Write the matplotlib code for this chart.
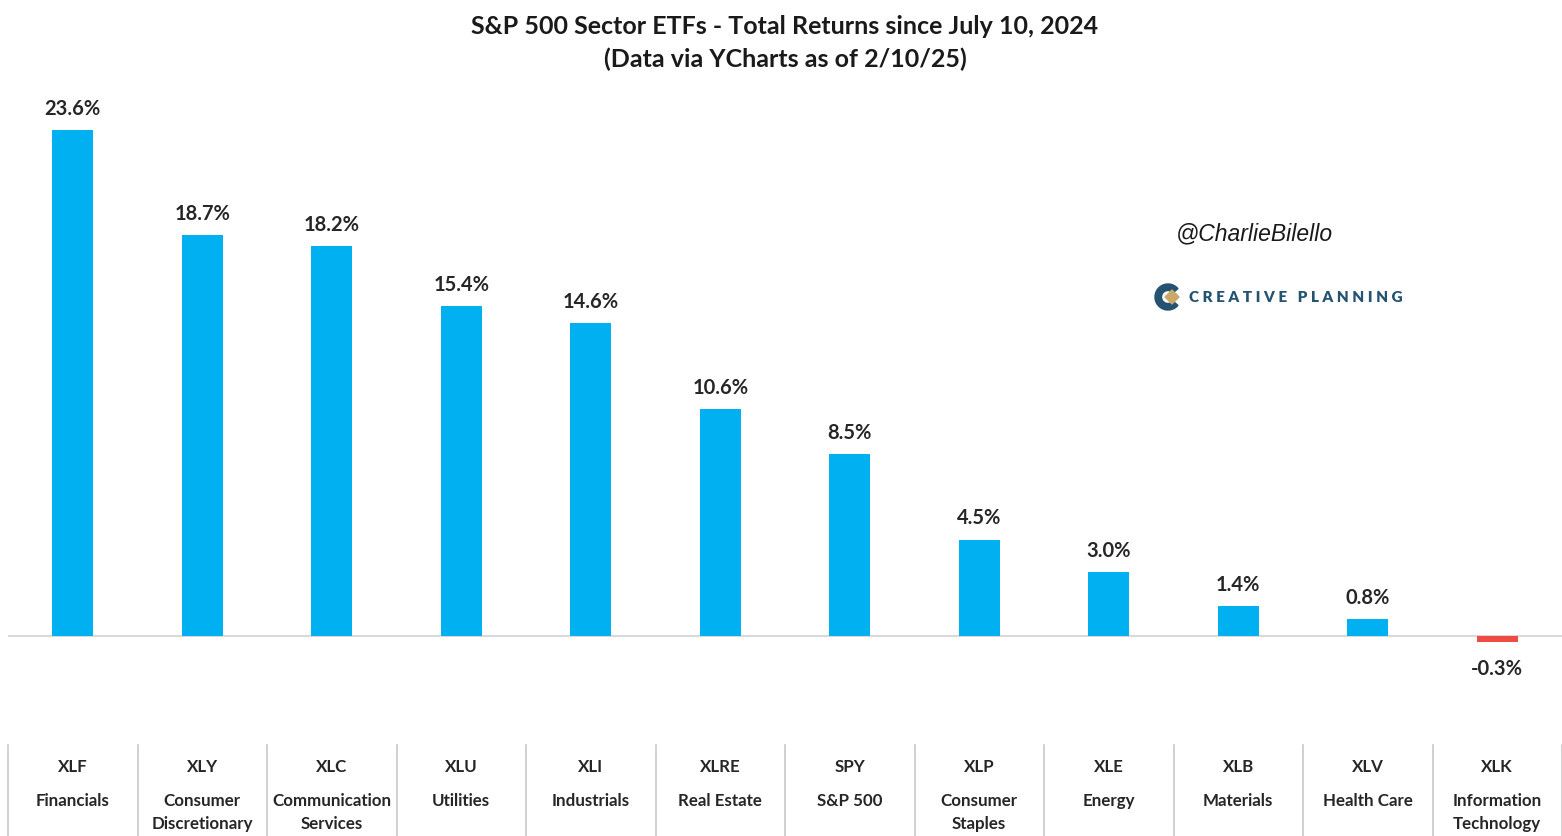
import matplotlib.pyplot as plt
import matplotlib.transforms as mtransforms
from matplotlib.patches import Wedge, Polygon
import numpy as np

plt.rcParams['font.family'] = ['Lato', 'DejaVu Sans']

# sector etf data
tickers = ['XLF', 'XLY', 'XLC', 'XLU', 'XLI', 'XLRE', 'SPY', 'XLP', 'XLE', 'XLB', 'XLV', 'XLK']
names = ['Financials', 'Consumer\nDiscretionary', 'Communication\nServices', 'Utilities',
         'Industrials', 'Real Estate', 'S&P 500', 'Consumer\nStaples', 'Energy',
         'Materials', 'Health Care', 'Information\nTechnology']
returns = [23.6, 18.7, 18.2, 15.4, 14.6, 10.6, 8.5, 4.5, 3.0, 1.4, 0.8, -0.3]

W, H = 1562, 836
fig = plt.figure(figsize=(W / 100, H / 100), dpi=100)
fig.patch.set_facecolor('white')

# axes placed in pixels: x 8..1562, y 100..700
ax = fig.add_axes([8 / W, 1 - 700.3 / H, (W - 8) / W, 600.3 / H])
x = np.arange(len(tickers))
colors = ['#00B0F0' if v >= 0 else '#EE4B45' for v in returns]
ax.bar(x, returns, width=0.32, color=colors, zorder=2)
ax.set_xlim(-0.5, len(tickers) - 0.5)
ax.set_ylim(-3, 25)
ax.axhline(0, color='#d9d9d9', lw=1.5, zorder=1)
for s in ax.spines.values():
    s.set_visible(False)
ax.set_xticks([])
ax.set_yticks([])

for xi, v in zip(x, returns):
    if v >= 0:
        ax.annotate(f'{v:.1f}%', (xi, v), xytext=(0, 8), textcoords='offset points',
                    ha='center', va='bottom', fontsize=14.5, fontweight='bold', color='#262626')
    else:
        ax.annotate(f'{v:.1f}%', (xi, v), xytext=(0, -12), textcoords='offset points',
                    ha='center', va='top', fontsize=14.5, fontweight='bold', color='#262626')

# table of labels below the chart
trans = mtransforms.blended_transform_factory(ax.transData, fig.transFigure)
for xi, t, n in zip(x, tickers, names):
    fig.text(xi, 1 - 767 / H, t, transform=trans, ha='center', va='center',
             fontsize=12.2, fontweight='bold', color='#262626')
    fig.text(xi, 1 - 793 / H, n, transform=trans, ha='center', va='top',
             fontsize=12.2, fontweight='bold', color='#262626', linespacing=1.55)
for b in np.arange(-0.5, len(tickers), 1.0):
    fig.add_artist(plt.Line2D([b, b], [0, 1 - 745 / H], transform=trans,
                              color='#c8c8c8', lw=1.2))

# title
fig.text(785 / W, 1 - 27 / H, 'S&P 500 Sector ETFs - Total Returns since July 10, 2024',
         ha='center', va='center', fontsize=18, fontweight='bold', color='#1a1a1a')
fig.text(785 / W, 1 - 59 / H, '(Data via YCharts as of 2/10/25)',
         ha='center', va='center', fontsize=18, fontweight='bold', color='#1a1a1a')

# watermark + logo
fig.text(1254 / W, 1 - 234 / H, '@CharlieBilello', ha='center', va='center',
         fontsize=16.5, style='italic', color='#1a1a1a', family=['Liberation Sans', 'DejaVu Sans'])
ring = Wedge((1168, H - 297), 13, 40, 320, width=6.5, color='#245372',
             transform=None)
diamond = Polygon([(1165, H - 297), (1172, H - 290), (1179, H - 297), (1172, H - 304)],
                  closed=True, color='#C9A86A', transform=None)
fig.add_artist(ring)
fig.add_artist(diamond)
fig.text(1189 / W, 1 - 297 / H, 'C R E A T I V E   P L A N N I N G', ha='left', va='center',
         fontsize=11, fontweight='heavy', color='#245372')

fig.savefig('out.png', dpi=100, facecolor='white')
